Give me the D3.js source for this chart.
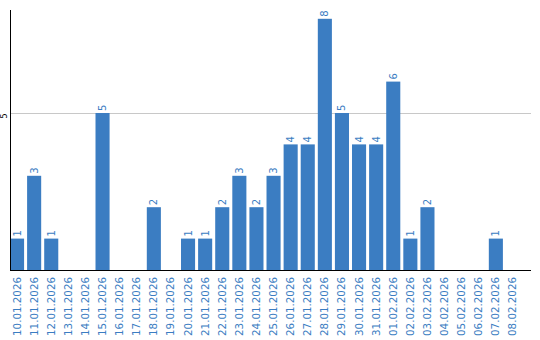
<!DOCTYPE html>
<meta charset="utf-8" />
<style>
  body { margin: 0; background: #fff; }
  text { font-family: "DejaVu Sans", Verdana, sans-serif; }
</style>
<svg width="540" height="340"></svg>
<script src="https://d3js.org/d3.v7.min.js"></script>
<script>
  var svg = d3.select("svg");

  var dates = ["10.01.2026", "11.01.2026", "12.01.2026", "13.01.2026", "14.01.2026",
    "15.01.2026", "16.01.2026", "17.01.2026", "18.01.2026", "19.01.2026",
    "20.01.2026", "21.01.2026", "22.01.2026", "23.01.2026", "24.01.2026",
    "25.01.2026", "26.01.2026", "27.01.2026", "28.01.2026", "29.01.2026",
    "30.01.2026", "31.01.2026", "01.02.2026", "02.02.2026", "03.02.2026",
    "04.02.2026", "05.02.2026", "06.02.2026", "07.02.2026", "08.02.2026"];
  var counts = [1, 3, 1, 0, 0, 5, 0, 0, 2, 0,
    1, 1, 2, 3, 2, 3, 4, 4, 8, 5,
    4, 4, 6, 1, 2, 0, 0, 0, 1, 0];
  var yTicks = [5];

  var blue = "#3b7dc2";
  var plotLeft = 10, plotRight = 531, plotTop = 10, plotBottom = 270;

  var x = d3.scaleBand().domain(dates).range([plotLeft, plotLeft + 17 * dates.length])
    .paddingInner(3 / 17).paddingOuter(0).align(0);
  var y = d3.scaleLinear().domain([0, 8.28]).range([plotBottom, plotTop]);

  // gridline
  svg.append("g").selectAll("line").data(yTicks).enter().append("line")
    .attr("x1", plotLeft).attr("x2", plotRight)
    .attr("y1", d => Math.round(y(d)) + 0.5).attr("y2", d => Math.round(y(d)) + 0.5)
    .attr("stroke", "#c8c8c8");

  // y tick labels, rotated
  svg.append("g").selectAll("text").data(yTicks).enter().append("text")
    .attr("transform", d => "translate(7," + (y(d) + 3) + ") rotate(-90)")
    .attr("text-anchor", "middle")
    .attr("font-size", 8)
    .attr("fill", "#000")
    .text(d => d);

  // bars
  var rows = dates.map((d, i) => ({ date: d, count: counts[i] }));
  svg.append("g").selectAll("rect").data(rows).enter().append("rect")
    .attr("x", d => x(d.date))
    .attr("width", x.bandwidth())
    .attr("y", d => y(d.count))
    .attr("height", d => plotBottom - y(d.count))
    .attr("fill", blue);

  // value labels
  svg.append("g").selectAll("text").data(rows.filter(d => d.count > 0)).enter().append("text")
    .attr("transform", d => "translate(" + (x(d.date) + x.bandwidth() / 2 + 3.5) + "," + (y(d.count) - 2) + ") rotate(-90)")
    .attr("text-anchor", "start")
    .attr("font-size", 10)
    .attr("fill", blue)
    .text(d => d.count);

  // axis lines
  svg.append("line").attr("x1", plotLeft + 0.5).attr("x2", plotLeft + 0.5)
    .attr("y1", plotTop).attr("y2", plotBottom + 1).attr("stroke", "#000");
  svg.append("line").attr("x1", plotLeft).attr("x2", plotRight)
    .attr("y1", plotBottom + 0.5).attr("y2", plotBottom + 0.5).attr("stroke", "#000");

  // x labels
  svg.append("g").selectAll("text").data(dates).enter().append("text")
    .attr("transform", d => "translate(" + (x(d) + x.bandwidth() / 2 + 3.5) + "," + (plotBottom + 7) + ") rotate(-90)")
    .attr("text-anchor", "end")
    .attr("font-size", 10.3)
    .attr("fill", blue)
    .text(d => d);
</script>
